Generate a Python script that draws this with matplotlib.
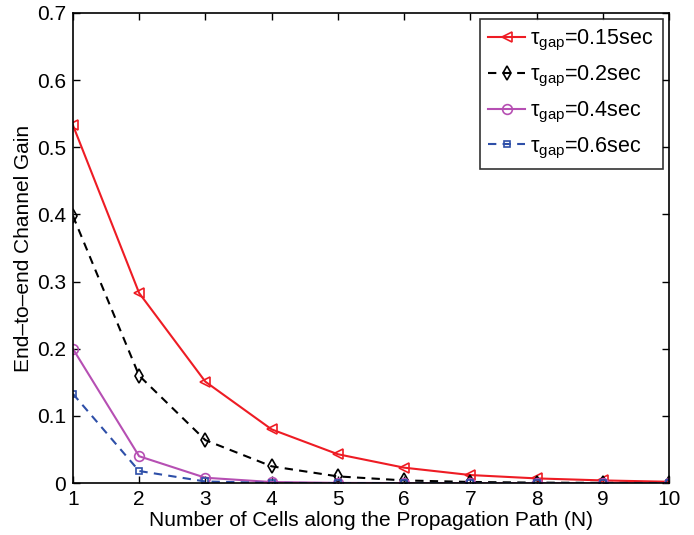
import matplotlib
matplotlib.use("Agg")
import matplotlib.pyplot as plt

plt.rcParams['font.family'] = ['Liberation Sans', 'DejaVu Sans']
plt.rcParams['mathtext.fontset'] = 'custom'
plt.rcParams['mathtext.rm'] = 'Liberation Sans'
plt.rcParams['mathtext.it'] = 'Liberation Sans:italic'

N = [1, 2, 3, 4, 5, 6, 7, 8, 9, 10]
gain_015 = [0.533, 0.283, 0.151, 0.080, 0.043, 0.023, 0.012, 0.007, 0.004, 0.002]
gain_02 = [0.398, 0.160, 0.064, 0.025, 0.010, 0.004, 0.0017, 0.0007, 0.0003, 0.0001]
gain_04 = [0.200, 0.040, 0.008, 0.0016, 0.0003, 0.0001, 0.0, 0.0, 0.0, 0.0]
gain_06 = [0.133, 0.018, 0.0024, 0.0003, 0.0, 0.0, 0.0, 0.0, 0.0, 0.0]
labels = ['0.15sec', '0.2sec', '0.4sec', '0.6sec']

fig = plt.figure(figsize=(6.94, 5.35), dpi=100)
ax = fig.add_axes([0.105, 0.097, 0.859, 0.879])

def lab(s):
    return 'τ$_{\\mathrm{gap}}$=' + s

ax.plot(N, gain_015, '-', color='#ee1c24', marker='<', mfc='none', ms=7, lw=1.5, mew=1.2, label=lab(labels[0]))
ax.plot(N, gain_02, '--', color='black', marker='d', mfc='none', ms=7, lw=1.5, mew=1.2,
        dashes=(4, 3), label=lab(labels[1]))
ax.plot(N, gain_04, '-', color='#b64fb3', marker='o', mfc='none', ms=7, lw=1.5, mew=1.2, label=lab(labels[2]))
ax.plot(N, gain_06, '--', color='#2e4fa8', marker='s', mfc='none', ms=5, lw=1.5, mew=1.2,
        dashes=(4, 3), label=lab(labels[3]))

ax.set_xlim(1, 10)
ax.set_ylim(0, 0.7)
ax.set_xticks(range(1, 11))
ax.set_yticks([0, 0.1, 0.2, 0.3, 0.4, 0.5, 0.6, 0.7])
ax.set_yticklabels(['0', '0.1', '0.2', '0.3', '0.4', '0.5', '0.6', '0.7'])
ax.tick_params(direction='in', top=True, right=True, labelsize=15, length=5, width=1, pad=5)
for s in ax.spines.values():
    s.set_linewidth(1.2)
ax.set_xlabel('Number of Cells along the Propagation Path (N)', fontsize=15, labelpad=1.5)
ax.set_ylabel('End–to–end Channel Gain', fontsize=15, labelpad=3)

leg = ax.legend(loc='upper right', fontsize=15.5, frameon=True, fancybox=False,
                edgecolor='black', handlelength=1.7, handletextpad=0.25,
                borderaxespad=0.3, labelspacing=0.5, borderpad=0.4)
leg.get_frame().set_linewidth(1.2)

fig.savefig('out.png', dpi=100)
